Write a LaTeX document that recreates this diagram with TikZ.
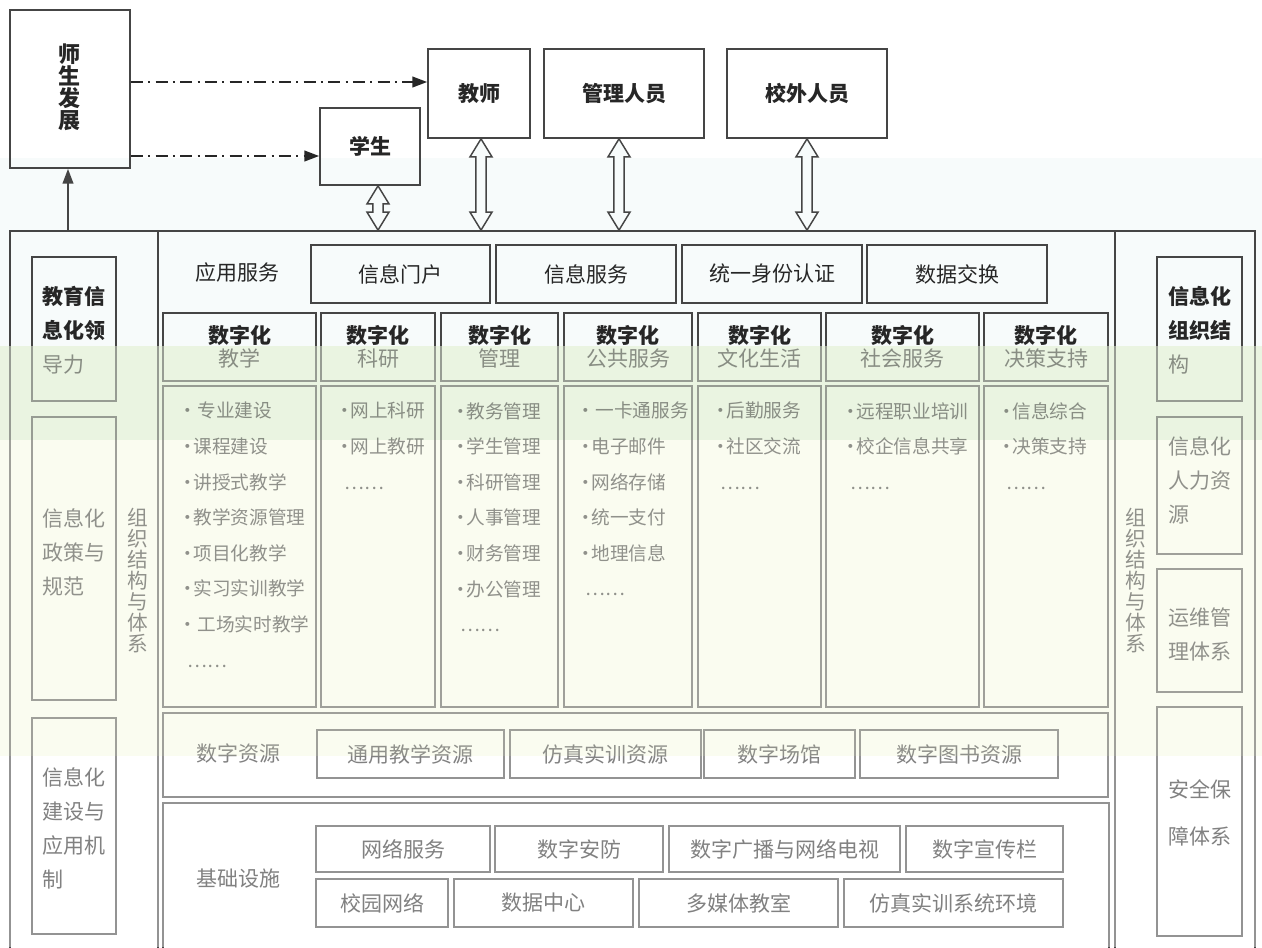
\documentclass[tikz,border=0pt]{standalone}
\usepackage{fontspec}
\setmainfont{Noto Sans CJK SC}
\usetikzlibrary{arrows.meta,fit,calc}
\definecolor{ink}{HTML}{262626}
\definecolor{edge}{HTML}{454545}
\definecolor{bgtop}{HTML}{F7FBFB}
\definecolor{bandA}{HTML}{EAF4E1}
\definecolor{bandB}{HTML}{FAFCF0}
\newcommand\hollowarrow[2]{%
  \draw[edge, line width=1.1pt, fill=bgtop, line join=miter] let \p1=(#1), \p2=(#2) in
  (\x1,\y1) -- (\x1+8.25pt,\y1-13.5pt) -- (\x1+3.8pt,\y1-13.5pt) -- (\x1+3.8pt,\y2+13.5pt)
  -- (\x1+8.25pt,\y2+13.5pt) -- (\x1,\y2) -- (\x1-8.25pt,\y2+13.5pt) -- (\x1-3.8pt,\y2+13.5pt)
  -- (\x1-3.8pt,\y1-13.5pt) -- (\x1-8.25pt,\y1-13.5pt) -- cycle;}
% a framed box fitted to two corners, with its text centred in it
\newcommand\labbox[4]{\node[box, fit={#2}] (#1) {}; \node[#3] (#1T) at (#1.center) {#4};}
\newcommand\bul{•\kern-2.5pt}
\begin{document}
\begin{tikzpicture}[x=0.75pt,y=-0.75pt,
  box/.style={draw=edge, line width=1.3pt, inner sep=0pt},
  big/.style={font=\fontsize{15.75}{18}\selectfont, text=ink, inner sep=0pt},
  bigb/.style={font=\fontsize{15.75}{18}\selectfont\bfseries, text=ink, inner sep=0pt},
  head/.style={font=\fontsize{15.75}{17.25}\selectfont, align=center, text=ink, inner sep=0pt},
  items/.style={font=\fontsize{14}{26.7}\selectfont, align=left, anchor=north west, inner sep=0pt, text=ink},
  side/.style={font=\fontsize{15.75}{25.5}\selectfont, align=left, inner sep=0pt, text=ink},
  vert/.style={font=\fontsize{15.5}{15.75}\selectfont, align=center, inner sep=0pt, text=ink},
  dashdot/.style={draw=ink, line width=1.2pt, dash pattern=on 9pt off 4pt on 1.5pt off 4pt, -{Triangle[length=11pt,width=8pt]}},
  uparrow/.style={draw=edge, line width=1.2pt, -{Triangle[length=11pt,width=8pt]}}]
\useasboundingbox (0,0) rectangle (1262,947);
% backgrounds
\fill[white] (0,0) rectangle (1262,158);
\fill[bgtop] (0,158) rectangle (1262,346);
\fill[bandA] (0,346) rectangle (1262,440);
\fill[bandB] (0,440) rectangle (1262,756);
\fill[white] (0,756) rectangle (1262,947);

% top boxes
\node[box, fit={(10,10)(130,168)}] (dev) {};
\node[font=\fontsize{16.5}{16.5}\selectfont\bfseries, align=center, text=ink, inner sep=0pt] (devT) at (69,87) {师\\生\\发\\展};
\labbox{stu}{(320,108)(420,185)}{bigb}{学生}
\labbox{tea}{(428,49)(530,138)}{bigb}{教师}
\labbox{mgr}{(544,49)(704,138)}{bigb}{管理人员}
\labbox{ext}{(727,49)(887,138)}{bigb}{校外人员}

% outer frame and dividers
\node[draw=edge, line width=1.3pt, inner sep=0pt, fit={(10,231)(1255,995)}] (frame) {};
\draw[edge, line width=1.3pt] (158,231) -- (158,995);
\draw[edge, line width=1.3pt] (1115,231) -- (1115,995);

% arrows
\draw[dashdot] (dev.east |- 0,82) -- (tea.west |- 0,82);
\draw[dashdot] (dev.east |- 0,156) -- (stu.west |- 0,156);
\draw[uparrow] ($(dev.south |- frame.north)+(-2,0)$) -- ($(dev.south)+(-2,0)$);
\hollowarrow{$(stu.south)+(8,0)$}{$(stu.south |- frame.north)+(8,0)$}
\hollowarrow{$(tea.south)+(2,0)$}{$(tea.south |- frame.north)+(2,0)$}
\hollowarrow{$(mgr.south)+(-5,0)$}{$(mgr.south |- frame.north)+(-5,0)$}
\hollowarrow{ext.south}{ext.south |- frame.north}

% application services
\node[big] (app) at (237,273) {应用服务};
\labbox{portal}{(311,245)(490,303)}{big}{信息门户}
\labbox{infosrv}{(496,245)(676,303)}{big}{信息服务}
\labbox{auth}{(682,245)(862,303)}{big}{统一身份认证}
\labbox{exch}{(867,245)(1047,303)}{big}{数据交换}

% digital column headers
\labbox{h1}{(163,313)(316,381)}{head}{{\bfseries 数字化}\\教学}
\labbox{h2}{(321,313)(435,381)}{head}{{\bfseries 数字化}\\科研}
\labbox{h3}{(441,313)(558,381)}{head}{{\bfseries 数字化}\\管理}
\labbox{h4}{(564,313)(692,381)}{head}{{\bfseries 数字化}\\公共服务}
\labbox{h5}{(698,313)(821,381)}{head}{{\bfseries 数字化}\\文化生活}
\labbox{h6}{(826,313)(979,381)}{head}{{\bfseries 数字化}\\社会服务}
\labbox{h7}{(984,313)(1108,381)}{head}{{\bfseries 数字化}\\决策支持}

% content boxes
\node[box, fit={(163,386)(316,707)}] (c1) {};
\node[box, fit={(321,386)(435,707)}] (c2) {};
\node[box, fit={(441,386)(558,707)}] (c3) {};
\node[box, fit={(564,386)(692,707)}] (c4) {};
\node[box, fit={(698,386)(821,707)}] (c5) {};
\node[box, fit={(826,386)(979,707)}] (c6) {};
\node[box, fit={(984,386)(1108,707)}] (c7) {};

\node[items] (t1) at (178,402) {\bul\hspace{3pt}专业建设\\\bul 课程建设\\\bul 讲授式教学\\\bul 教学资源管理\\\bul 项目化教学\\\bul 实习实训教学\\\bul\hspace{3pt}工场实时教学\\\hspace*{7pt}……};
\node[items] (t2) at (335,402) {\bul 网上科研\\\bul 网上教研\\\hspace*{7pt}……};
\node[items] (t3) at (451,402) {\bul 教务管理\\\bul 学生管理\\\bul 科研管理\\\bul 人事管理\\\bul 财务管理\\\bul 办公管理\\\hspace*{7pt}……};
\node[items] (t4) at (576,402) {\bul\hspace{3pt}一卡通服务\\\bul 电子邮件\\\bul 网络存储\\\bul 统一支付\\\bul 地理信息\\\hspace*{7pt}……};
\node[items] (t5) at (711,402) {\bul 后勤服务\\\bul 社区交流\\\hspace*{7pt}……};
\node[items] (t6) at (841,402) {\bul 远程职业培训\\\bul 校企信息共享\\\hspace*{7pt}……};
\node[items] (t7) at (997,402) {\bul 信息综合\\\bul 决策支持\\\hspace*{7pt}……};

% digital resources
\node[box, fit={(163,713)(1108,797)}] (res) {};
\node[big] (resL) at (238,753) {数字资源};
\labbox{r1}{(317,730)(504,778)}{big}{通用教学资源}
\labbox{r2}{(510,730)(701,778)}{big}{仿真实训资源}
\labbox{r3}{(704,730)(855,778)}{big}{数字场馆}
\labbox{r4}{(860,730)(1058,778)}{big}{数字图书资源}

% infrastructure
\node[box, fit={(163,803)(1109,995)}] (base) {};
\node[big] (baseL) at (238,879) {基础设施};
\labbox{b1}{(316,826)(490,872)}{big}{网络服务}
\labbox{b2}{(495,826)(663,872)}{big}{数字安防}
\labbox{b3}{(669,826)(900,872)}{big}{数字广播与网络电视}
\labbox{b4}{(906,826)(1063,872)}{big}{数字宣传栏}
\labbox{b5}{(316,879)(448,927)}{big}{校园网络}
\labbox{b6}{(454,879)(633,927)}{big}{数据中心}
\labbox{b7}{(639,879)(838,927)}{big}{多媒体教室}
\labbox{b8}{(844,879)(1063,927)}{big}{仿真实训系统环境}

% left column
\node[box, fit={(32,257)(116,401)}] (lead) {};
\node[side] (leadT) at (74,330) {{\bfseries 教育信}\\{\bfseries 息化领}\\导力};
\node[box, fit={(32,417)(116,700)}] (policy) {};
\node[side] (policyT) at (74,552) {信息化\\政策与\\规范};
\node[box, fit={(32,718)(116,934)}] (mech) {};
\node[side] (mechT) at (74,828) {信息化\\建设与\\应用机\\制};
\node[vert] (orgL) at (138,581) {组\\织\\结\\构\\与\\体\\系};

% right column
\node[box, fit={(1157,257)(1242,401)}] (org) {};
\node[side] (orgT) at (1199.5,330) {{\bfseries 信息化}\\{\bfseries 组织结}\\构};
\node[box, fit={(1157,417)(1242,554)}] (hr) {};
\node[side] (hrT) at (1199.5,480) {信息化\\人力资\\源};
\node[box, fit={(1157,569)(1242,692)}] (ops) {};
\node[side] (opsT) at (1199.5,634) {运维管\\理体系};
\node[box, fit={(1157,707)(1242,936)}] (sec) {};
\node[side, font=\fontsize{15.75}{35}\selectfont] (secT) at (1199.5,813) {安全保\\障体系};
\node[vert] (orgR) at (1136,581) {组\\织\\结\\构\\与\\体\\系};

% scan-like fading of the lower part
\fill[bandA, opacity=0.5] (0,346) rectangle (1262,440);
\fill[bandB, opacity=0.5] (0,440) rectangle (1262,756);
\fill[white, opacity=0.42] (0,756) rectangle (1262,947);
\end{tikzpicture}
\end{document}
